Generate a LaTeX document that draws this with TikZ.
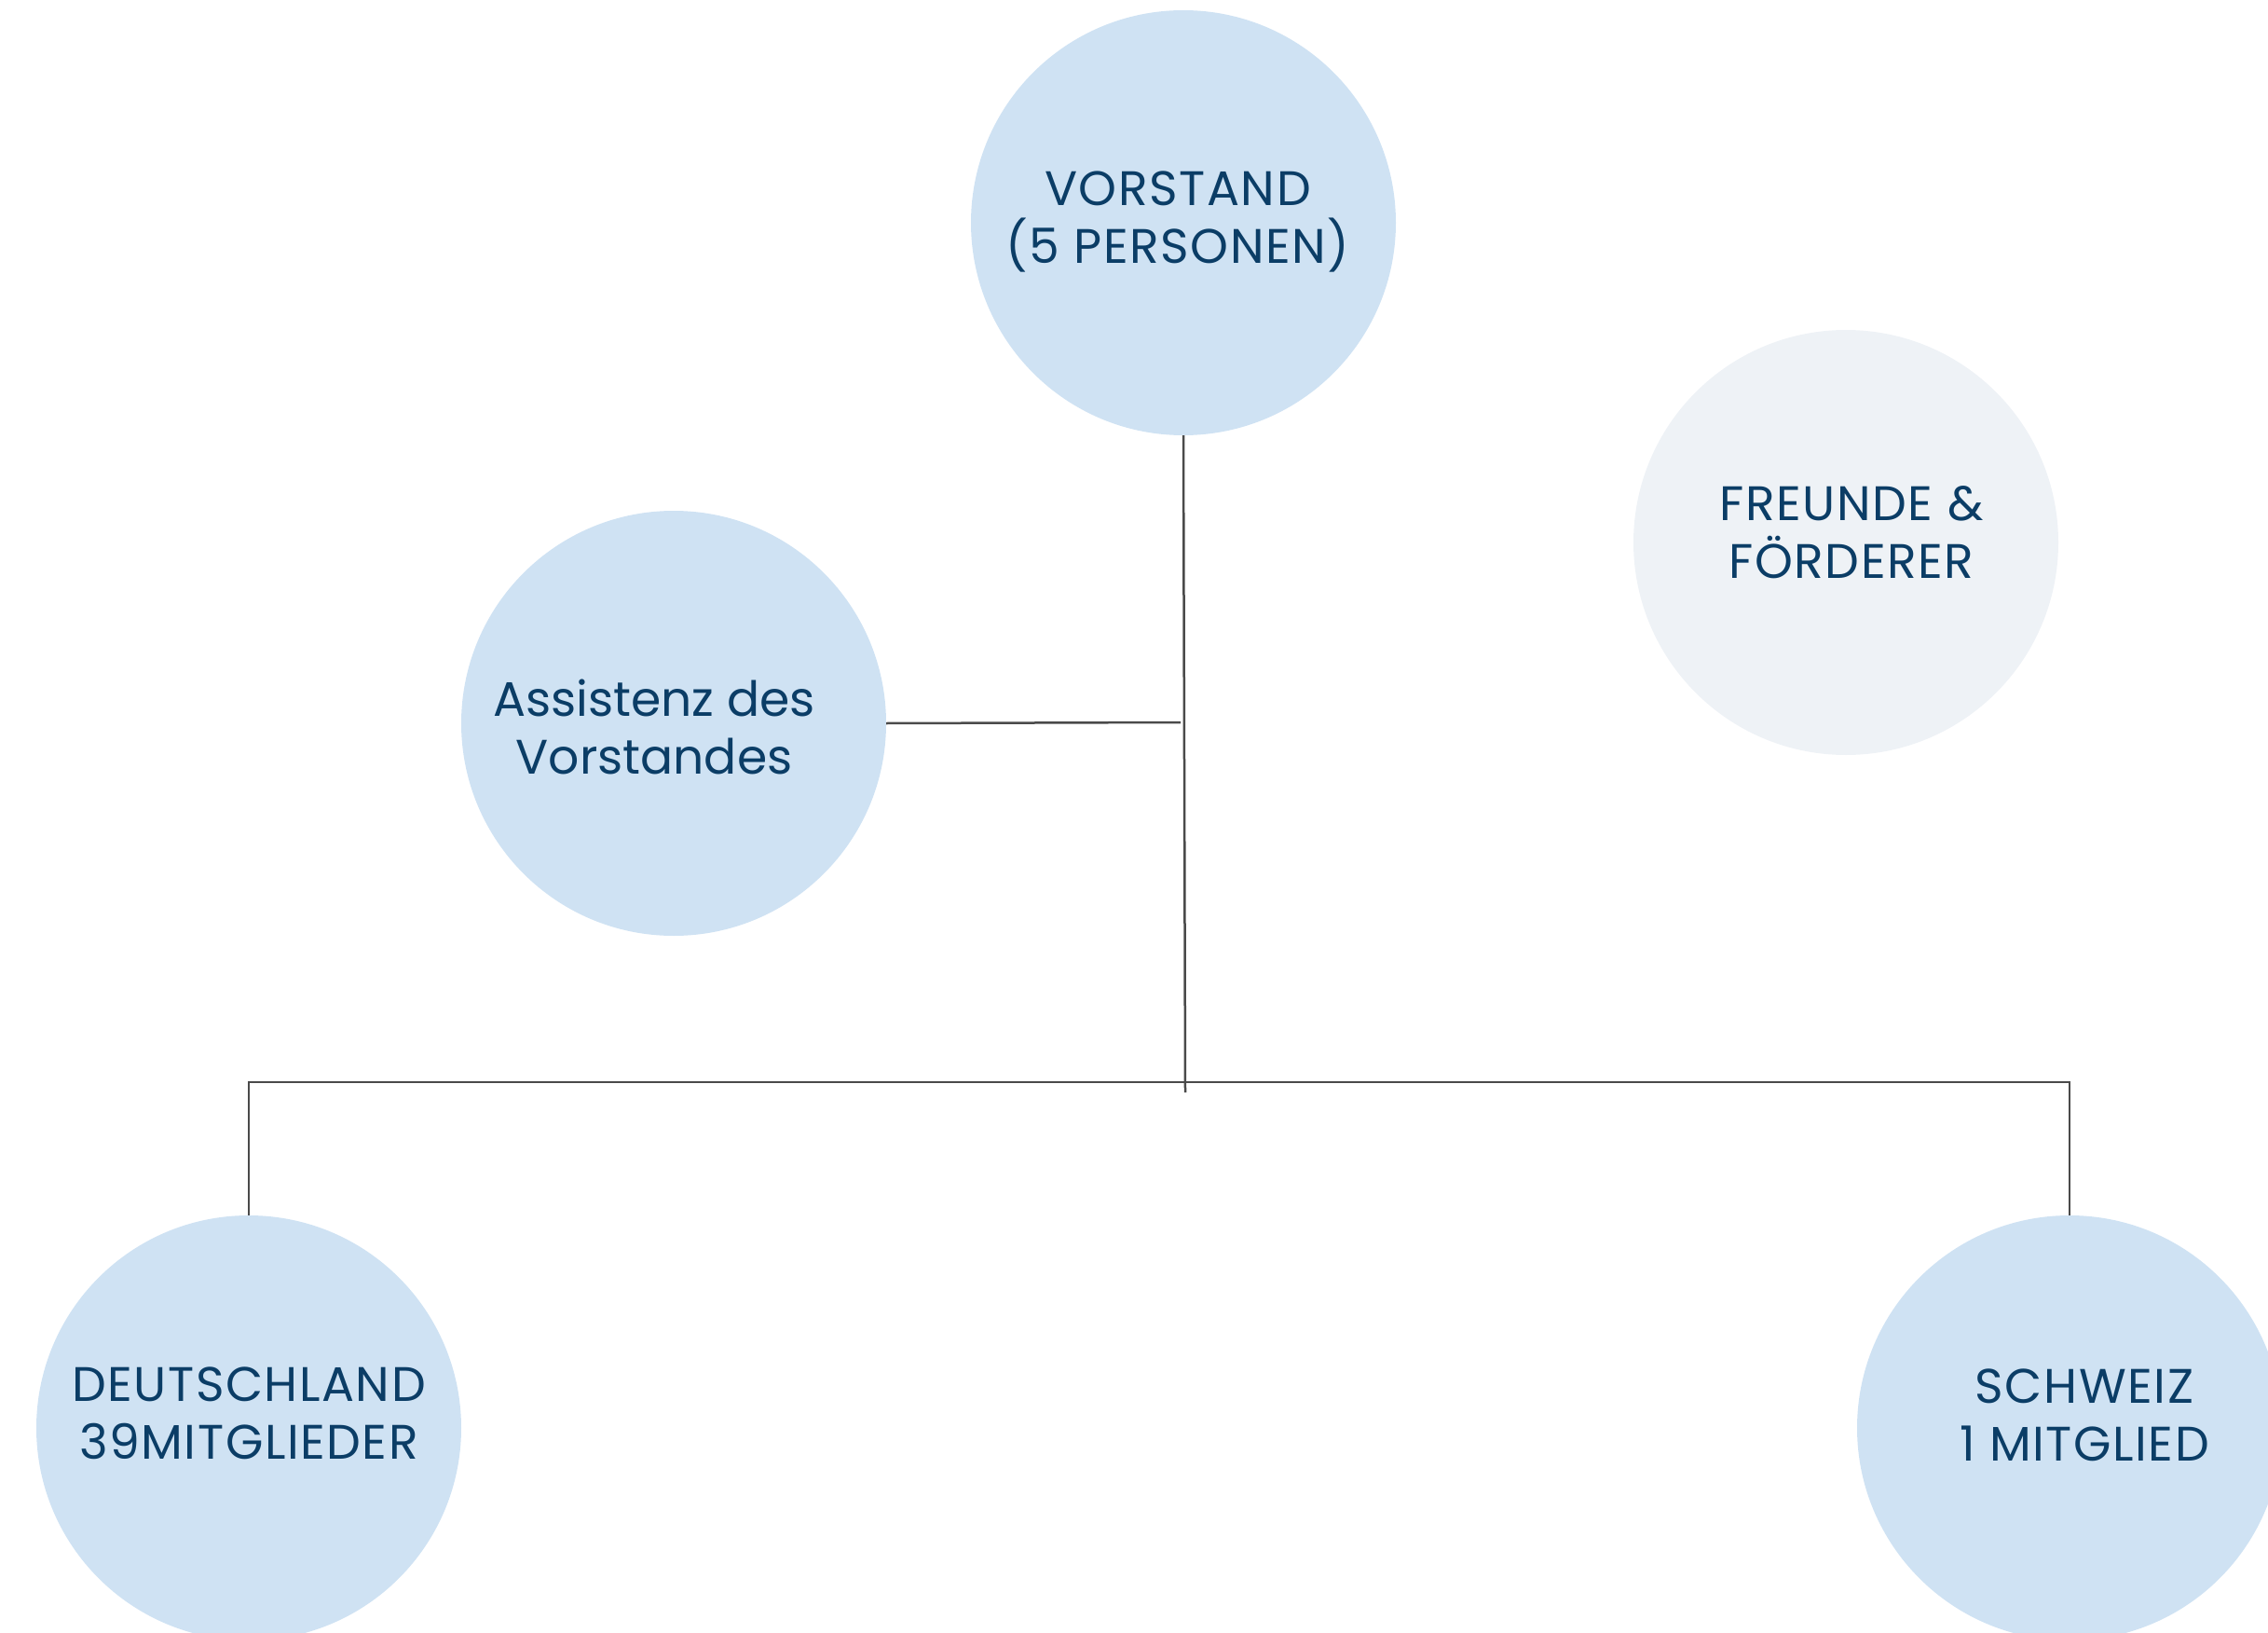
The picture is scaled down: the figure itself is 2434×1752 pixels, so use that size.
\documentclass[tikz,border=0pt]{standalone}
\usepackage{fontspec}
\setmainfont{Poppins}
\newfontfamily\orgcapsfont[LetterSpace=3]{Poppins}
\definecolor{circblue}{HTML}{CFE2F3}
\definecolor{circgrey}{HTML}{EEF2F6}
\definecolor{txtblue}{HTML}{0B3D66}
\definecolor{linegrey}{HTML}{4A4A4A}
\tikzset{
  orgcircle/.style={circle, fill=circblue, draw=none, minimum size=456pt, inner sep=0pt},
  orgtext/.style={text=txtblue, align=center, font=\fontsize{52}{62}\selectfont, inner sep=0pt},
  capstext/.style={orgtext, font=\orgcapsfont\fontsize{52}{62}\selectfont},
  orgline/.style={draw=linegrey, line width=2.5pt},
}
\begin{document}
\begin{tikzpicture}[x=1pt, y=-1pt]
\useasboundingbox (0,0) rectangle (2434,1752);
\begin{scope}
\clip (0,0) rectangle (2434,1752);
\node[orgcircle] (V) at (1270,239) {};
\node[orgcircle] (A) at (723,776) {};
\node[orgcircle, fill=circgrey] (F) at (1981,582) {};
\node[orgcircle] (D) at (267,1532) {};
\node[orgcircle] (S) at (2221,1532) {};
\end{scope}
\node[capstext] (Vt) at (1264,238) {VORSTAND\\(5 PERSONEN)};
\node[orgtext] (At) at (702,780) {Assistenz des\\Vorstandes};
\node[capstext] (Ft) at (1987,571) {FREUNDE \&\\FÖRDERER};
\node[capstext] (Dt) at (267,1516) {DEUTSCHLAND\\39MITGLIEDER};
\node[capstext] (St) at (2237,1518) {SCHWEIZ\\1 MITGLIED};
\coordinate (vend) at (1272,1172);
\coordinate (aend) at (1267,775);
\coordinate (hl) at (267,1161);
\coordinate (hr) at (2221,1161);
\draw[orgline] (V.south) -- (vend);
\draw[orgline] (A.east) -- (aend);
\draw[orgline] (D.north) -- (hl) -- (hr) -- (S.north);
\end{tikzpicture}
\end{document}
